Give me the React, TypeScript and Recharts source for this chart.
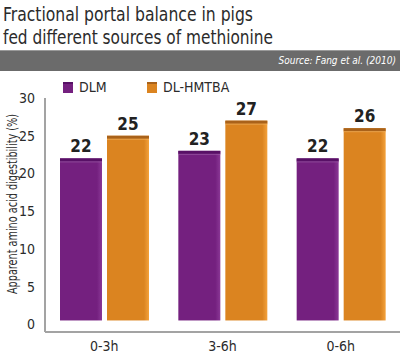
import React from 'react';
import { BarChart, Bar, XAxis, YAxis, LabelList } from 'recharts';

const categories = ['0-3h', '3-6h', '0-6h'];
const dlmValues = [22, 23, 22];
const hmtbaValues = [25, 27, 26];
const yTicks = [0, 5, 10, 15, 20, 25, 30];

const data = categories.map((name, i) => ({
  name,
  dlm: dlmValues[i],
  hmtba: hmtbaValues[i],
}));

const FONT = '"Liberation Sans Narrow", "DejaVu Sans Condensed", Roboto, sans-serif';

const PURPLE = { main: '#74207f', top: '#581066', hi: '#9c5ca6', edge: '#8a3896' };
const ORANGE = { main: '#db8420', top: '#a9621a', hi: '#f0b060', edge: '#f4a23c' };

// bar with a darker top strip and a lighter right edge
const makeShape = (c: typeof PURPLE, id: string) => (props: any) => {
  const { x, y, width, height } = props;
  if (!height || height <= 0) return null;
  return (
    <g>
      <defs>
        <linearGradient id={id} x1="0" y1="0" x2="1" y2="0">
          <stop offset="0%" stopColor={c.main} />
          <stop offset="88%" stopColor={c.main} />
          <stop offset="100%" stopColor={c.edge} />
        </linearGradient>
      </defs>
      <rect x={x} y={y} width={width} height={height - 4} fill={`url(#${id})`} />
      <rect x={x} y={y} width={width} height={3} fill={c.top} />
      <rect x={x} y={y + 3} width={width} height={1} fill={c.hi} opacity={0.7} />
    </g>
  );
};

export default function App() {
  return (
    <div style={{ position: 'absolute', left: 0, top: 0, width: 400, height: 355, background: '#fff' }}>
      <svg width={400} height={355} style={{ position: 'absolute', left: 0, top: 0 }}>
        <text x={3} y={21} fontFamily={FONT} fontSize={19.5} fill="#2b2b2b" textLength={250} lengthAdjust="spacingAndGlyphs">
          Fractional portal balance in pigs
        </text>
        <text x={3} y={44} fontFamily={FONT} fontSize={19.5} fill="#2b2b2b" textLength={270} lengthAdjust="spacingAndGlyphs">
          fed different sources of methionine
        </text>
        <rect x={0} y={50} width={400} height={21} fill="#6b6b6b" />
        <rect x={0} y={50} width={400} height={1} fill="#9a9a9a" />
        <text x={396} y={64} textAnchor="end" fontFamily={FONT} fontSize={10} fontStyle="italic" fill="#fff">
          Source: Fang et al. (2010)
        </text>
        <rect x={63} y={82} width={10} height={11} fill={PURPLE.main} />
        <rect x={63} y={82} width={10} height={2} fill={PURPLE.top} />
        <text x={79} y={92} fontFamily={FONT} fontSize={14} fill="#2b2b2b">DLM</text>
        <rect x={147} y={82} width={10} height={11} fill={ORANGE.main} />
        <rect x={147} y={82} width={10} height={2} fill={ORANGE.top} />
        <text x={163} y={92} fontFamily={FONT} fontSize={14} fill="#2b2b2b">DL-HMTBA</text>
        <text
          transform="translate(17,204) rotate(-90)"
          textAnchor="middle"
          fontFamily={FONT}
          fontSize={14}
          fill="#2b2b2b"
          textLength={180}
          lengthAdjust="spacingAndGlyphs"
        >
          Apparent amino acid digestibility (%)
        </text>
      </svg>
      <div style={{ position: 'absolute', left: 0, top: 0 }}>
        <BarChart
          width={400}
          height={355}
          data={data}
          margin={{ top: 98, right: 0, left: 0, bottom: 3 }}
          barGap={5}
          barSize={42}
        >
          <XAxis
            dataKey="name"
            height={20}
            tickSize={0}
            tickMargin={9}
            axisLine={{ stroke: '#a3a3a3', strokeWidth: 2 }}
            tick={{ fontFamily: FONT, fontSize: 14, fill: '#2b2b2b' }}
          />
          <YAxis
            width={45}
            domain={[-1, 30]}
            ticks={yTicks}
            tickSize={0}
            tickMargin={10}
            axisLine={{ stroke: '#a3a3a3', strokeWidth: 2 }}
            tick={{ fontFamily: FONT, fontSize: 14, fill: '#2b2b2b' }}
          />
          <Bar dataKey="dlm" isAnimationActive={false} shape={makeShape(PURPLE, 'gp')}>
            <LabelList dataKey="dlm" position="top" offset={6} style={{ fontFamily: FONT, fontSize: 17, fontWeight: 'bold', fill: '#222' }} />
          </Bar>
          <Bar dataKey="hmtba" isAnimationActive={false} shape={makeShape(ORANGE, 'go')}>
            <LabelList dataKey="hmtba" position="top" offset={6} style={{ fontFamily: FONT, fontSize: 17, fontWeight: 'bold', fill: '#222' }} />
          </Bar>
        </BarChart>
      </div>
    </div>
  );
}
